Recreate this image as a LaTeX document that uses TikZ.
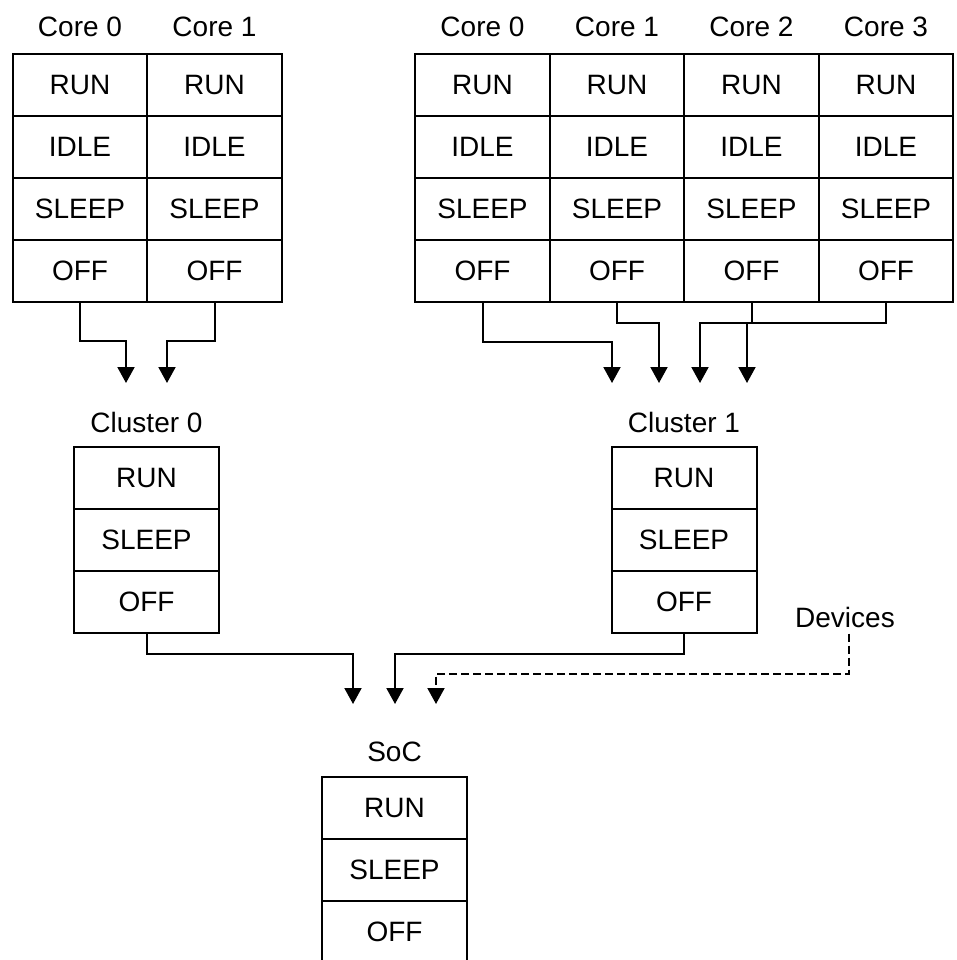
\documentclass[tikz,border=0pt]{standalone}
\usepackage{fontspec}
\setmainfont{Liberation Sans}
\usetikzlibrary{arrows.meta}

\tikzset{
  corecell/.style={draw, line width=1pt, minimum width=67.25pt, minimum height=31pt, inner sep=0pt},
  boxcell/.style={corecell, minimum width=72.5pt},
  title/.style={inner sep=0pt},
  wire/.style={line width=1pt, -{Triangle[width=8.5pt,length=8pt]}},
  devwire/.style={wire, dash pattern=on 4pt off 2pt},
}

\begin{document}
\begin{tikzpicture}[x=0.5pt, y=-0.5pt, font=\fontsize{14}{17}\selectfont]
  % Page
  \useasboundingbox (0,0) rectangle (957,960);

  % Cores of cluster 0
  \foreach \c in {0,1} {
    \node[title] (lc\c) at (80+134.5*\c, 27) {Core \c};
    \foreach \st [count=\r] in {RUN,IDLE,SLEEP,OFF}
      \node[corecell] (lc\c-\st) at (80+134.5*\c, 23+62*\r) {\st};
  }

  % Cores of cluster 1
  \foreach \c in {0,...,3} {
    \node[title] (rc\c) at (482.5+134.5*\c, 27) {Core \c};
    \foreach \st [count=\r] in {RUN,IDLE,SLEEP,OFF}
      \node[corecell] (rc\c-\st) at (482.5+134.5*\c, 23+62*\r) {\st};
  }

  % Clusters and SoC
  \node[title] (cl0) at (146.5, 422) {Cluster 0};
  \node[title] (cl1) at (684, 422) {Cluster 1};
  \node[title] (soc) at (394.5, 752) {SoC};
  \foreach \st [count=\r] in {RUN,SLEEP,OFF} {
    \node[boxcell] (cl0-\st) at (146.5, 416+62*\r) {\st};
    \node[boxcell] (cl1-\st) at (684, 416+62*\r) {\st};
    \node[boxcell] (soc-\st) at (394.5, 746+62*\r) {\st};
  }
  \node[title, inner sep=3pt] (dev) at (845, 617) {Devices};

  % Arrow ends
  \coordinate (in0a) at (126, 383);
  \coordinate (in0b) at (167, 383);
  \coordinate (in1a) at (612, 383);
  \coordinate (in1b) at (659, 383);
  \coordinate (in1c) at (700, 383);
  \coordinate (in1d) at (747, 383);
  \coordinate (soca) at (353, 704);
  \coordinate (socb) at (395, 704);
  \coordinate (socc) at (436, 704);

  % Connectors
  \draw[wire] (lc0-OFF.south) -- ++(0,38) -| (in0a);
  \draw[wire] (lc1-OFF.south) -- ++(0,38) -| (in0b);
  \draw[wire] (rc0-OFF.south) -- ++(0,39) -| (in1a);
  \draw[wire] (rc1-OFF.south) -- ++(0,20) -| (in1b);
  \draw[wire] (rc3-OFF.south) -- ++(0,20) -| (in1c);
  \draw[wire] (rc2-OFF.south) -- ++(0,20) -| (in1d);
  \draw[wire] (cl0-OFF.south) -- ++(0,20) -| (soca);
  \draw[wire] (cl1-OFF.south) -- ++(0,20) -| (socb);
  \draw[devwire] ([xshift=2pt]dev.south) -- ++(0,40) -| (socc);
\end{tikzpicture}
\end{document}
